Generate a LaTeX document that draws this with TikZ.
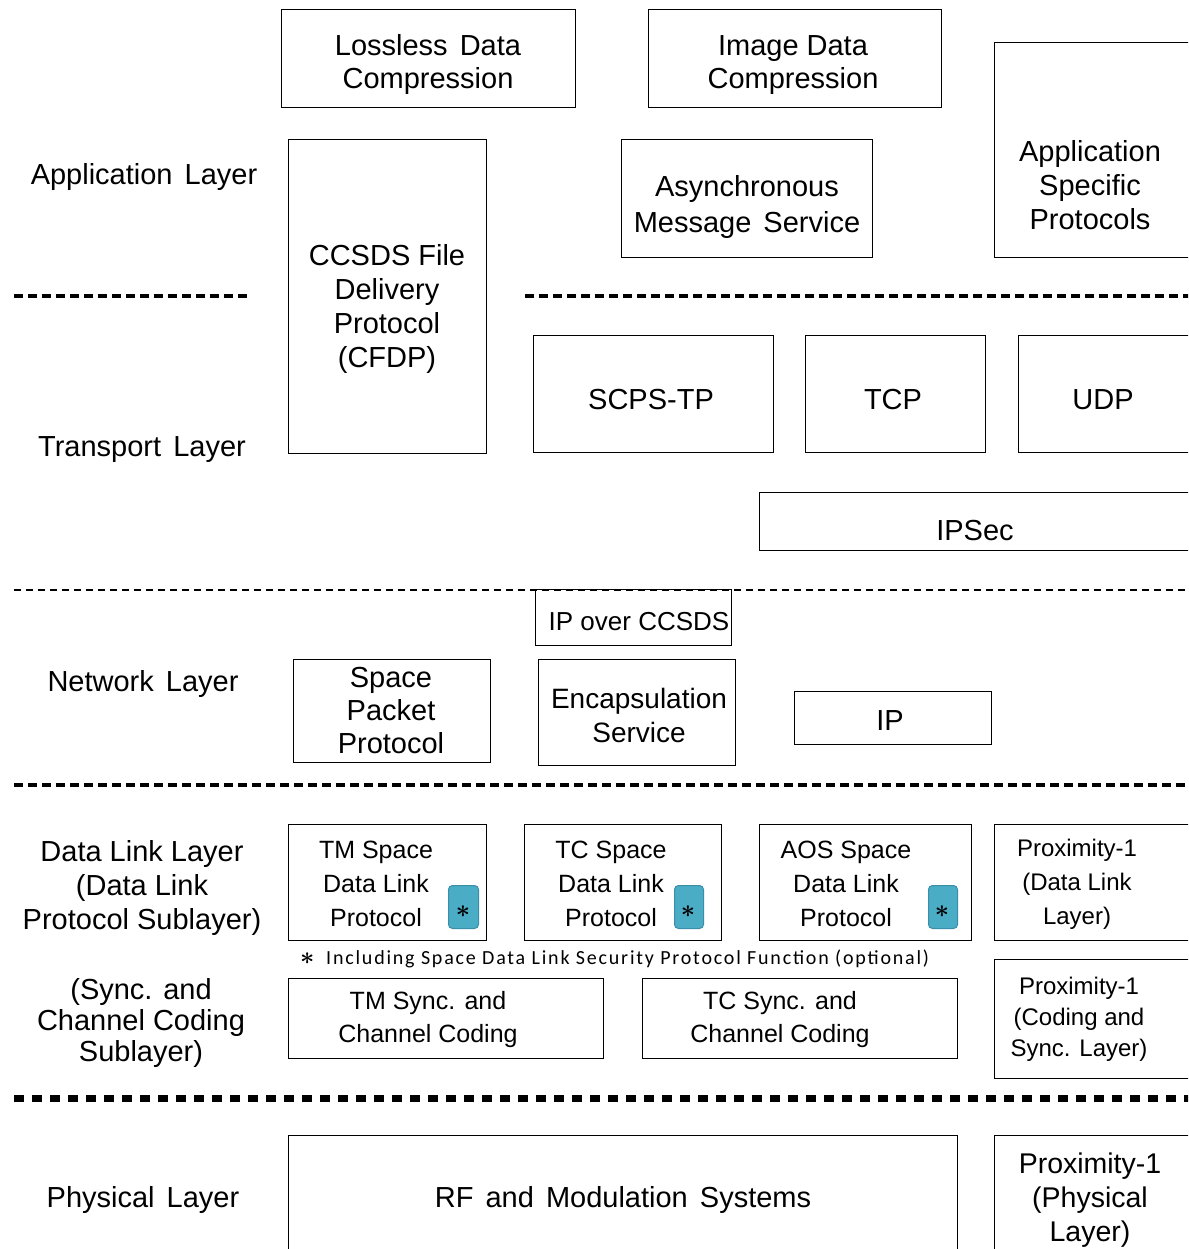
\documentclass[tikz,border=0pt]{standalone}
\usepackage{fontspec}
\setmainfont{Liberation Sans}
\newfontfamily\wsf[WordSpace=1.5]{Liberation Sans}
\newfontfamily\calib[LetterSpace=9]{Carlito}
\definecolor{aqua}{HTML}{4BACC6}
\definecolor{aquaD}{HTML}{3A8FA8}
\begin{document}
\begin{tikzpicture}[x=1pt,y=-1pt,
  box/.style={draw, line width=1.4pt, anchor=north west, inner sep=0pt},
  big/.style={font=\fontsize{29}{33}\selectfont, align=center, inner sep=0pt, yshift=-3pt},
  bigw/.style={font=\fontsize{29}{33}\selectfont\wsf, align=center, inner sep=0pt, yshift=-3pt},
  mid/.style={font=\fontsize{25}{34}\selectfont, align=center, inner sep=0pt, yshift=-2pt},
  star/.style={draw=aquaD, fill=aqua, line width=1pt, rounded corners=4pt, anchor=north west, minimum width=30pt, minimum height=43pt, inner sep=0pt},
  stxt/.style={font=\fontsize{36}{36}\selectfont\boldmath, inner sep=0pt},
  thickdash/.style={line width=4pt, dash pattern=on 9pt off 5pt},
  thindash/.style={line width=1.5pt, dash pattern=on 7pt off 5pt},
  thickdot/.style={line width=7pt, dash pattern=on 10pt off 8pt}]
\useasboundingbox (0,0) rectangle (1188,1249);
\clip (0,0) rectangle (1188,1249);
\fill[white] (0,0) rectangle (1188,1249);

% layer separators
\coordinate (s1a) at (14,296); \coordinate (s1b) at (251,296);
\coordinate (s1c) at (525,296); \coordinate (s1d) at (1195,296);
\coordinate (s2a) at (14,590); \coordinate (s2b) at (1195,590);
\coordinate (s3a) at (14,785); \coordinate (s3b) at (1195,785);
\coordinate (s4a) at (14,1098); \coordinate (s4b) at (1195,1098);
\draw[thickdash] (s1a) -- (s1b);
\draw[thickdash] (s1c) -- (s1d);
\draw[thindash] (s2a) -- (s2b);
\draw[thickdash] (s3a) -- (s3b);
\draw[thickdot] (s4a) -- (s4b);

% layer labels
\node[bigw] (appL) at (144,174) {Application Layer};
\node[bigw] (transL) at (142,447) {Transport Layer};
\node[bigw] (netL) at (143,681) {Network Layer};
\node[big, font=\fontsize{29}{34}\selectfont] (dllL) at (142,885) {Data Link Layer\\(Data Link\\Protocol Sublayer)};
\node[big, font=\fontsize{29}{31}\selectfont] (syncL) at (141,1020) {(Sync. and\\Channel Coding\\Sublayer)};
\node[bigw] (physL) at (143,1197) {Physical Layer};

% application layer
\node[box, minimum width=294pt, minimum height=98pt] (lossless) at (281,9) {};
\node[bigw] (losslessT) at (428,62) {Lossless Data\\Compression};
\node[box, minimum width=293pt, minimum height=98pt] (image) at (648,9) {};
\node[big] (imageT) at (793,62) {Image Data\\Compression};
\node[box, minimum width=210pt, minimum height=215pt] (asp) at (994,42) {};
\node[big, font=\fontsize{29}{34}\selectfont] (aspT) at (1090,182) {Application\\Specific\\Protocols};
\node[box, minimum width=198pt, minimum height=314pt] (cfdp) at (288,139) {};
\node[big, font=\fontsize{29}{34}\selectfont] (cfdpT) at (387,306) {CCSDS File\\Delivery\\Protocol\\(CFDP)};
\node[box, minimum width=251pt, minimum height=118pt] (ams) at (621,139) {};
\node[bigw, font=\fontsize{29}{36}\selectfont\wsf] (amsT) at (747,204) {Asynchronous\\Message Service};

% transport layer
\node[box, minimum width=240pt, minimum height=117pt] (scps) at (533,335) {};
\node[big] (scpsT) at (651,397) {SCPS-TP};
\node[box, minimum width=180pt, minimum height=117pt] (tcp) at (805,335) {};
\node[big] (tcpT) at (893,397) {TCP};
\node[box, minimum width=180pt, minimum height=117pt] (udp) at (1018,335) {};
\node[big] (udpT) at (1103,397) {UDP};
\node[box, minimum width=440pt, minimum height=58pt] (ipsec) at (759,492) {};
\node[big] (ipsecT) at (975,528) {IPSec};

% network layer
\node[box, minimum width=196pt, minimum height=56pt] (ipcc) at (535,589) {};
\node[big, font=\fontsize{26}{30}\selectfont] (ipccT) at (639,619) {IP over CCSDS};
\node[box, minimum width=197pt, minimum height=103pt] (spp) at (293,659) {};
\node[big] (sppT) at (391,708) {Space\\Packet\\Protocol};
\node[box, minimum width=197pt, minimum height=106pt] (enc) at (538,659) {};
\node[big, font=\fontsize{28}{34}\selectfont] (encT) at (639,712) {Encapsulation\\Service};
\node[box, minimum width=197pt, minimum height=53pt] (ip) at (794,691) {};
\node[big] (ipT) at (890,718) {IP};

% data link protocol sublayer
\node[box, minimum width=198pt, minimum height=116pt] (tm) at (288,824) {};
\node[mid] (tmT) at (376,882) {TM Space\\Data Link\\Protocol};
\node[star] (tmS) at (448,885) {};
\node[stxt] (tmA) at (463,912) {$\ast$};
\node[box, minimum width=197pt, minimum height=116pt] (tc) at (524,824) {};
\node[mid] (tcT) at (611,882) {TC Space\\Data Link\\Protocol};
\node[star, minimum width=29pt] (tcS) at (674,885) {};
\node[stxt] (tcA) at (688,912) {$\ast$};
\node[box, minimum width=212pt, minimum height=116pt] (aos) at (759,824) {};
\node[mid] (aosT) at (846,882) {AOS Space\\Data Link\\Protocol};
\node[star, minimum width=29pt] (aosS) at (928,885) {};
\node[stxt] (aosA) at (942,912) {$\ast$};
\node[box, minimum width=210pt, minimum height=116pt] (prox1) at (994,824) {};
\node[mid, font=\fontsize{24}{34}\selectfont] (prox1T) at (1077,882) {Proximity-1\\(Data Link\\Layer)};

% footnote
\node[stxt, font=\fontsize{30}{30}\selectfont\boldmath, anchor=west] (footA) at (300,959) {$\ast$};
\node[inner sep=0pt, anchor=west, font=\fontsize{20}{22}\selectfont\calib] (foot) at (326,959) {Including Space Data Link Security Protocol Function (optional)};

% sync and coding sublayer
\node[box, minimum width=315pt, minimum height=80pt] (tms) at (288,978) {};
\node[mid, font=\fontsize{25}{33}\selectfont] (tmsT) at (428,1018) {TM Sync. and\\Channel Coding};
\node[box, minimum width=315pt, minimum height=80pt] (tcs) at (642,978) {};
\node[mid, font=\fontsize{25}{33}\selectfont] (tcsT) at (780,1018) {TC Sync. and\\Channel Coding};
\node[box, minimum width=210pt, minimum height=119pt] (prox2) at (994,959) {};
\node[mid, font=\fontsize{24}{31}\selectfont] (prox2T) at (1079,1017) {Proximity-1\\(Coding and\\Sync. Layer)};

% physical layer
\node[box, minimum width=669pt, minimum height=140pt] (rf) at (288,1135) {};
\node[bigw] (rfT) at (623,1197) {RF and Modulation Systems};
\node[box, minimum width=210pt, minimum height=140pt] (prox3) at (994,1135) {};
\node[big, font=\fontsize{28.5}{34}\selectfont] (prox3T) at (1090,1197) {Proximity-1\\(Physical\\Layer)};
\end{tikzpicture}
\end{document}
